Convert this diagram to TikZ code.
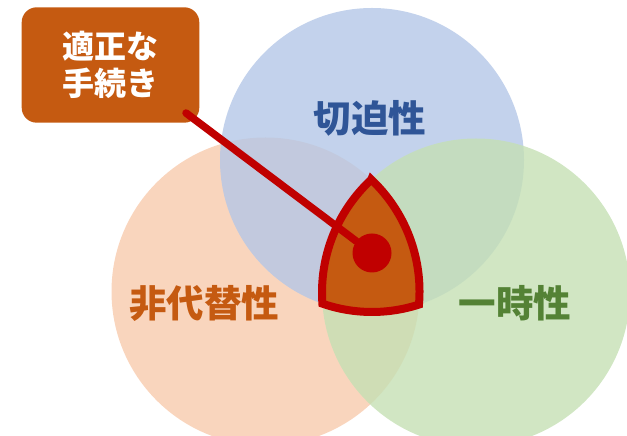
\documentclass[tikz,border=0pt]{standalone}
\usepackage{fontspec}
\newfontfamily\cjk{Noto Sans CJK JP}
\definecolor{cblue}{HTML}{B4C7E7}
\definecolor{corange}{HTML}{F8CBAD}
\definecolor{cgreen}{HTML}{C5E0B4}
\definecolor{cbrown}{HTML}{C55A11}
\definecolor{cred}{HTML}{C00000}
\definecolor{tblue}{HTML}{2F5597}
\definecolor{tgreen}{HTML}{548235}
\tikzset{
  venn/.style={fill opacity=0.8},
  biglabel/.style={font=\cjk\bfseries\fontsize{37.5}{40}\selectfont, inner sep=0pt},
  notebox/.style={fill=cbrown, rounded corners=15pt, minimum width=177.6pt, minimum height=115.4pt,
    text=white, align=center, font=\cjk\bfseries\fontsize{32}{37}\selectfont, inner sep=0pt},
  pointer/.style={draw=cred, line width=7.5pt, line cap=round},
  dotmark/.style={circle, fill=cred, minimum size=39pt, inner sep=0pt},
  core/.style={draw=cred, fill=cbrown, line width=8pt, line join=miter}
}
\begin{document}
\begin{tikzpicture}[x=1pt,y=1pt]
\useasboundingbox (0,0) rectangle (627,436);
\coordinate (O) at (265.5,144.5);
\coordinate (B) at (372,276);
\coordinate (G) at (476,143.5);
% circles
\fill[corange, venn] (O) circle[radius=154];
\fill[cblue, venn] (B) circle[radius=152];
\fill[cgreen, venn] (G) circle[radius=154];
% common region
\draw[core] (371.28,256.42) arc[start angle=132.84, end angle=184.16, radius=154]
  arc[start angle=250.95, end angle=287.99, radius=152]
  arc[start angle=-4.87, end angle=46.62, radius=154] -- cycle;
% labels
\node[biglabel, text=tblue] (lb) at (370,318) {切迫性};
\node[biglabel, text=cbrown] (lo) at (204,133) {非代替性};
\node[biglabel, text=tgreen] (lg) at (515,133) {一時性};
% box, pointer, dot
\node[notebox] (box) at (110.5,371) {適正な\\手続き};
\coordinate (start) at (186,323);
\node[dotmark] (dot) at (372,183) {};
\draw[pointer] (start) -- (dot);
\end{tikzpicture}
\end{document}
